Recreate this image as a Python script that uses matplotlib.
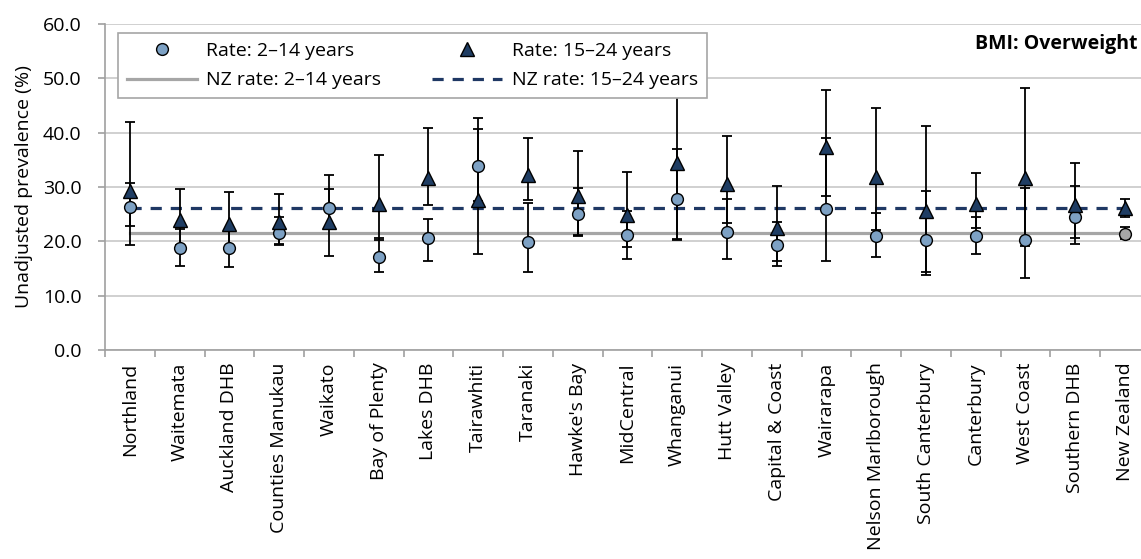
import matplotlib.pyplot as plt
import numpy as np

categories = ["Northland", "Waitemata", "Auckland DHB", "Counties Manukau", "Waikato",
              "Bay of Plenty", "Lakes DHB", "Tairawhiti", "Taranaki", "Hawke's Bay",
              "MidCentral", "Whanganui", "Hutt Valley", "Capital & Coast", "Wairarapa",
              "Nelson Marlborough", "South Canterbury", "Canterbury", "West Coast",
              "Southern DHB", "New Zealand"]

# 2-14 years: rate and 95% CI
rate_child = [26.3, 18.7, 18.7, 21.6, 26.2, 17.2, 20.7, 33.9, 19.8, 25.0, 21.1,
              27.7, 21.7, 19.3, 25.9, 20.9, 20.2, 20.9, 20.2, 24.4, 21.3]
child_lo = [22.9, 15.5, 15.2, 19.6, 22.6, 14.4, 16.4, 27.5, 14.4, 20.9, 16.7,
            20.2, 16.7, 15.5, 16.4, 17.1, 13.8, 17.6, 13.2, 20.7, 20.4]
child_hi = [30.8, 22.2, 22.3, 24.4, 29.6, 20.7, 24.2, 40.7, 27.0, 29.9, 25.6,
            37.0, 27.8, 23.6, 39.0, 25.2, 29.3, 24.5, 29.9, 30.2, 22.7]

# 15-24 years: rate and 95% CI
rate_youth = [29.3, 23.9, 23.2, 23.6, 23.6, 26.9, 31.6, 27.6, 32.3, 28.4, 24.8,
              34.4, 30.5, 22.4, 37.4, 31.9, 25.5, 26.9, 31.6, 26.7, 26.1]
youth_lo = [19.4, 19.4, 19.0, 19.4, 17.3, 20.2, 26.6, 17.7, 27.6, 21.2, 18.9,
            20.4, 23.3, 16.4, 28.4, 22.1, 14.3, 22.4, 19.2, 19.5, 24.5]
youth_hi = [42.0, 29.6, 29.0, 28.7, 32.3, 35.9, 40.9, 42.7, 39.1, 36.7, 32.8,
            52.0, 39.4, 30.2, 47.8, 44.5, 41.2, 32.5, 48.3, 34.4, 27.8]

nz_child = 21.6
nz_youth = 26.2

plt.rcParams['font.family'] = ['Open Sans', 'DejaVu Sans']
plt.rcParams['font.size'] = 14

W, H = 1141, 559
fig = plt.figure(figsize=(W / 100, H / 100), dpi=100)
ax = fig.add_axes([105 / W, 1 - 350 / H, 21 * 49.75 / W, 326 / H])

x = np.arange(len(categories))
rc = np.array(rate_child)
ry = np.array(rate_youth)

ax.plot(x, [nz_child] * len(x), color='#a6a6a6', lw=2.3, zorder=2)
ax.plot(x, [nz_youth] * len(x), color='#1f3864', lw=2.3, ls=(0, (3.5, 2.8)), zorder=2)

err_style = dict(fmt='none', ecolor='black', elinewidth=1.3, capsize=3.6, capthick=1.3, zorder=3)
ax.errorbar(x, rc, yerr=[rc - np.array(child_lo), np.array(child_hi) - rc], **err_style)
ax.errorbar(x, ry, yerr=[ry - np.array(youth_lo), np.array(youth_hi) - ry], **err_style)

ax.plot(x[:-1], rc[:-1], 'o', ms=8.5, mfc='#7da1c4', mec='black', mew=1, zorder=4)
ax.plot(x[-1:], rc[-1:], 'o', ms=8.5, mfc='#a6a6a6', mec='black', mew=1, zorder=4)
ax.plot(x, ry, '^', ms=10.5, mfc='#1f3d63', mec='black', mew=1, zorder=5)

ax.set_xlim(-0.5, len(categories) - 0.5)
ax.set_ylim(0, 60)
ax.set_yticks(np.arange(0, 61, 10))
ax.set_yticklabels([f"{v:.1f}" for v in np.arange(0, 61, 10)])
ax.grid(axis='y', color='#c8c8c8', lw=1.2)
ax.set_axisbelow(True)
for s in ['top', 'right']:
    ax.spines[s].set_visible(False)
for s in ['left', 'bottom']:
    ax.spines[s].set_color('#a0a0a0')
    ax.spines[s].set_linewidth(1.2)

ax.set_xticks(x)
ax.set_xticklabels(categories, rotation=90)
ax.set_xticks(np.arange(-0.5, len(categories), 1), minor=True)
ax.tick_params(axis='x', which='major', length=0, pad=9)
ax.tick_params(axis='x', which='minor', length=5, color='#a0a0a0', width=1.2)
ax.tick_params(axis='y', length=5, color='#a0a0a0', width=1.2, pad=12)
ax.set_ylabel("Unadjusted prevalence (%)", labelpad=7)

h1, = ax.plot([], [], 'o', ms=8.5, mfc='#7da1c4', mec='black', mew=1)
h2, = ax.plot([], [], color='#a6a6a6', lw=2.3)
h3, = ax.plot([], [], '^', ms=10.5, mfc='#1f3d63', mec='black', mew=1)
h4, = ax.plot([], [], color='#1f3864', lw=2.3, ls=(0, (3.5, 2.8)))
leg = fig.legend([h1, h2, h3, h4],
                 ["Rate: 2–14 years", "NZ rate: 2–14 years",
                  "Rate: 15–24 years", "NZ rate: 15–24 years"],
                 ncol=2, loc='upper left', bbox_to_anchor=(118 / W, 1 - 33 / H),
                 borderaxespad=0, frameon=True, fancybox=False, edgecolor='#a6a6a6',
                 framealpha=1, handlelength=3.6, handletextpad=0.5, columnspacing=2.6,
                 labelspacing=0.6, borderpad=0.45, fontsize=14)
leg.get_frame().set_linewidth(1.2)
leg.set_zorder(10)

fig.text(975 / W, 1 - 44 / H, "BMI: Overweight", fontweight='bold', fontsize=14,
         ha='left', va='center')

fig.savefig("out.png", dpi=100)
